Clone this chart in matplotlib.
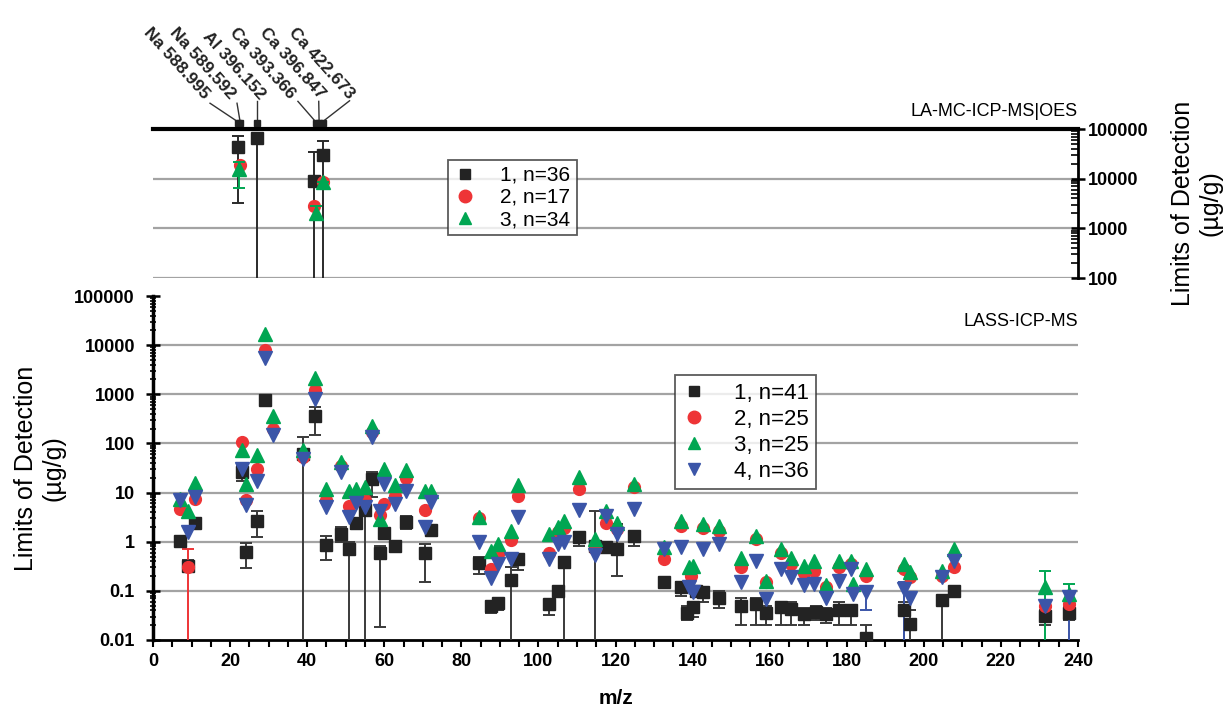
import numpy as np
import matplotlib
matplotlib.use("Agg")
import matplotlib.pyplot as plt
from matplotlib.ticker import FixedLocator, MultipleLocator, NullFormatter
from matplotlib.lines import Line2D

plt.rcParams['font.family'] = ['Liberation Sans', 'DejaVu Sans']

# ---- bottom panel: LASS-ICP-MS ----
# series 1 (black squares): m/z, LOD, lower / upper end of error bar
s1_mz = [7.0, 9.1, 10.9, 23.0, 24.1, 27.0, 29.0, 38.9, 42.0, 44.8, 48.9, 50.9, 52.7, 55.0,
         56.8, 58.8, 60.0, 62.9, 65.7, 70.6, 72.2, 84.7, 87.7, 89.5, 92.9, 94.6, 102.8, 105.0,
         106.7, 110.6, 114.8, 117.5, 120.5, 124.9, 132.6, 137.0, 138.6, 140.0, 141.0, 142.6,
         146.9, 152.5, 156.4, 159.0, 162.9, 165.5, 169.0, 172.0, 174.5, 178.0, 181.0, 184.9,
         194.8, 196.5, 204.7, 207.8, 231.5, 237.6]
s1_val = [1.05, 0.32, 2.4, 26, 0.62, 2.6, 780, 60, 355, 0.87, 1.45, 0.70, 2.4, 4.5,
          19, 0.58, 1.5, 0.83, 2.5, 0.6, 1.7, 0.37, 0.049, 0.057, 0.17, 0.44, 0.053, 0.10,
          0.39, 1.25, 0.8, 0.79, 0.7, 1.3, 0.15, 0.12, 0.036, 0.046, 0.10, 0.095,
          0.072, 0.049, 0.053, 0.036, 0.046, 0.043, 0.034, 0.038, 0.034, 0.041, 0.041, 0.011,
          0.041, 0.021, 0.065, 0.10, 0.031, 0.036]
s1_lo = [0.9, 0.25, 2.0, 17, 0.29, 1.27, 700, 0.009, 145, 0.43, 1.0, 0.009, 1.8, 0.009,
         8, 0.018, 1.2, 0.7, 1.8, 0.15, 1.4, 0.22, 0.035, 0.04, 0.009, 0.26, 0.033, 0.09,
         0.009, 0.8, 0.009, 0.7, 0.2, 0.8, 0.14, 0.08, 0.025, 0.03, 0.08, 0.06,
         0.045, 0.02, 0.02, 0.02, 0.02, 0.02, 0.02, 0.025, 0.022, 0.02, 0.02, 0.009,
         0.009, 0.009, 0.009, 0.085, 0.02, 0.025]
s1_hi = [1.25, 0.42, 2.9, 35, 0.95, 4.2, 850, 135, 550, 1.3, 2.0, 1.0, 3.0, 9,
         26, 0.8, 1.9, 1.0, 3.3, 0.9, 2.0, 0.5, 0.06, 0.065, 0.3, 0.55, 0.065, 0.11,
         0.5, 1.6, 4.3, 0.9, 2.3, 1.6, 0.16, 0.15, 0.05, 0.06, 0.12, 0.11,
         0.1, 0.07, 0.07, 0.05, 0.06, 0.06, 0.045, 0.05, 0.045, 0.06, 0.05, 0.02,
         0.06, 0.04, 0.08, 0.12, 0.04, 0.05]

# series 2 (red circles)
s2_mz = [7.0, 9.1, 10.9, 23.0, 24.1, 27.0, 29.0, 31.2, 38.9, 42.0, 44.8, 48.9, 50.9, 52.7,
         55.0, 56.8, 58.8, 60.0, 62.9, 65.7, 70.6, 84.7, 87.7, 89.5, 92.9, 94.6, 102.8, 105.0,
         106.7, 110.6, 114.8, 117.5, 120.5, 124.9, 132.6, 137.0, 139.5, 142.6, 146.9, 152.5,
         156.4, 159.0, 162.9, 165.5, 169.0, 171.5, 174.5, 178.0, 181.0, 184.9, 194.8, 196.5,
         204.7, 207.8, 231.5, 237.6]
s2_val = [4.7, 0.30, 7.4, 107, 6.9, 30, 7900, 200, 53, 1200, 6.9, 35, 5.4, 7.0,
          7.0, 170, 3.5, 5.9, 8.7, 20, 4.5, 3.0, 0.28, 0.56, 1.08, 8.6, 0.6, 1.6,
          1.9, 12, 0.7, 2.4, 1.8, 13, 0.44, 2.1, 0.2, 1.9, 1.66, 0.30,
          1.15, 0.15, 0.6, 0.36, 0.23, 0.25, 0.12, 0.30, 0.35, 0.2, 0.28, 0.19,
          0.20, 0.30, 0.05, 0.055]

# series 3 (green triangles)
s3_mz = [7.0, 9.1, 10.9, 23.0, 24.1, 27.0, 29.0, 31.2, 38.9, 42.0, 44.8, 48.9, 50.9, 52.7,
         55.0, 56.8, 58.8, 60.0, 62.9, 65.7, 70.6, 72.2, 84.7, 87.7, 89.5, 92.9, 94.6, 102.8,
         105.0, 106.7, 110.6, 114.8, 117.5, 120.5, 124.9, 132.6, 137.0, 139.0, 140.0, 142.6,
         146.9, 152.5, 156.4, 159.0, 162.9, 165.5, 169.0, 171.5, 174.5, 178.0, 181.0, 181.5,
         184.9, 194.8, 196.5, 204.7, 207.8, 231.5, 237.6]
s3_val = [7.4, 4.3, 16, 72, 15, 57, 17000, 370, 72, 2100, 12, 42, 11, 12,
          13, 230, 2.9, 30, 14, 29, 11, 11, 3.2, 0.66, 0.9, 1.66, 14, 1.45,
          2.0, 2.6, 21, 1.15, 4.3, 2.4, 15, 0.78, 2.6, 0.3, 0.32, 2.3,
          2.1, 0.47, 1.3, 0.16, 0.7, 0.47, 0.32, 0.41, 0.13, 0.41, 0.41, 0.14,
          0.28, 0.36, 0.24, 0.25, 0.7, 0.12, 0.087]

# series 4 (blue down triangles)
s4_mz = [7.0, 9.1, 10.9, 23.0, 24.1, 27.0, 29.0, 31.2, 38.9, 42.0, 44.8, 48.9, 50.9, 52.7,
         55.0, 56.8, 58.8, 60.0, 62.9, 65.7, 70.6, 72.2, 84.7, 87.7, 89.5, 92.9, 94.6, 102.8,
         105.0, 106.7, 110.6, 114.8, 117.5, 120.5, 124.9, 132.6, 137.0, 139.0, 140.0, 142.6,
         146.9, 152.5, 156.4, 159.0, 162.9, 165.5, 169.0, 171.5, 174.5, 178.0, 181.0, 181.5,
         184.9, 194.8, 196.5, 204.7, 207.8, 231.5, 237.6]
s4_val = [6.9, 1.55, 8.0, 30, 5.7, 17, 5400, 145, 49, 810, 5.0, 26, 3.2, 6.0,
          5.0, 135, 4.3, 15, 5.9, 11, 2.0, 6.3, 1.0, 0.18, 0.36, 0.44, 3.2, 0.44,
          0.9, 1.0, 4.5, 0.53, 3.3, 1.45, 4.7, 0.7, 0.78, 0.12, 0.095, 0.7,
          0.9, 0.15, 0.41, 0.069, 0.28, 0.19, 0.13, 0.14, 0.072, 0.16, 0.28, 0.087,
          0.095, 0.11, 0.072, 0.19, 0.41, 0.05, 0.075]

# visible error bars of series 2-4
s2_bar_mz, s2_bar_lo, s2_bar_hi = [9.1], [0.009], [0.72]
s3_bar_mz, s3_bar_lo, s3_bar_hi = [231.5, 237.6], [0.009, 0.03], [0.25, 0.14]
s4_bar_mz, s4_bar_lo, s4_bar_hi = [184.9, 194.8, 237.6], [0.04, 0.009, 0.009], [0.11, 0.15, 0.1]

# ---- top panel: LA-MC-ICP-MS|OES ----
t1_mz = [22.0, 27.0, 41.7, 44.0]
t1_val = [44000, 65000, 9100, 30000]
t1_lo = [3300, 90, 90, 90]
t1_hi = [72000, 65000, 35000, 57000]
t2_mz = [22.5, 41.9, 44.0]
t2_val = [19000, 2800, 8700]
t3_mz = [22.3, 42.2, 44.0]
t3_val = [16000, 2000, 8500]
t3_lo = [6500, 1500, 8500]
t3_hi = [22000, 2800, 8500]

line_labels = ["Na 588.995", "Na 589.592", "Al 396.152", "Ca 393.366", "Ca 396.847", "Ca 422.673"]
line_anchor_mz = [22.0, 22.6, 27.0, 42.2, 43.1, 44.0]

legend_bottom = ["1, n=41", "2, n=25", "3, n=25", "4, n=36"]
legend_top = ["1, n=36", "2, n=17", "3, n=34"]

c1, c2, c3, c4 = '#232323', '#ee3436', '#00a652', '#3b55a8'
grid_c = '#a3a3a3'

fig = plt.figure(figsize=(12.23, 7.09), dpi=100)
W, H = 1223.0, 709.0
x0, x1 = 153, 1078
ax = fig.add_axes([x0 / W, 1 - 640 / H, (x1 - x0) / W, 344 / H])
axt = fig.add_axes([x0 / W, 1 - 278 / H, (x1 - x0) / W, 149 / H])


def yerr(val, lo, hi):
    val = np.asarray(val, float)
    return [val - np.asarray(lo, float), np.asarray(hi, float) - val]


mk = dict(linestyle='none', capsize=4, elinewidth=1.4, capthick=1.4)

# bottom panel
ax.errorbar(s1_mz, s1_val, yerr=yerr(s1_val, s1_lo, s1_hi), marker='s', ms=8,
            color=c1, ecolor='#3a3a3a', zorder=3, **mk)
ax.errorbar(s2_bar_mz, s2_bar_hi, yerr=yerr(s2_bar_hi, s2_bar_lo, s2_bar_hi),
            fmt='none', ecolor=c2, zorder=3, capsize=4, elinewidth=1.4, capthick=1.4)
ax.plot(s2_mz, s2_val, 'o', ms=8.5, color=c2, mec=c2, zorder=4)
ax.errorbar(s3_bar_mz, s3_bar_hi, yerr=yerr(s3_bar_hi, s3_bar_lo, s3_bar_hi),
            fmt='none', ecolor=c3, zorder=3, capsize=4, elinewidth=1.4, capthick=1.4)
ax.plot(s3_mz, s3_val, '^', ms=9.5, color=c3, zorder=5)
ax.errorbar(s4_bar_mz, s4_bar_hi, yerr=yerr(s4_bar_hi, s4_bar_lo, s4_bar_hi),
            fmt='none', ecolor=c4, zorder=3, capsize=4, elinewidth=1.4, capthick=1.4)
ax.plot(s4_mz, s4_val, 'v', ms=9.5, color=c4, zorder=6)

ax.set_yscale('log')
ax.set_ylim(0.01, 100000)
ax.set_xlim(0, 240)
for v in [0.1, 1, 10, 100, 1000, 10000]:
    ax.axhline(v, color=grid_c, lw=1.6, zorder=0)
for s in ['top', 'right']:
    ax.spines[s].set_visible(False)
ax.spines['left'].set_linewidth(2.5)
ax.spines['bottom'].set_linewidth(2.0)
ax.xaxis.set_major_locator(MultipleLocator(20))
ax.xaxis.set_minor_locator(MultipleLocator(5))
ax.yaxis.set_major_locator(FixedLocator([0.01, 0.1, 1, 10, 100, 1000, 10000, 100000]))
ax.yaxis.set_major_formatter(plt.FuncFormatter(lambda v, p: f"{v:g}"))
ax.yaxis.set_minor_formatter(NullFormatter())
ax.tick_params(axis='y', which='major', direction='inout', length=10, width=1.8,
               labelsize=13, pad=8)
ax.tick_params(axis='y', which='minor', direction='inout', length=5, width=1.2)
ax.tick_params(axis='x', which='both', direction='out', length=5, width=1.5,
               labelsize=13, pad=4)
for lab in ax.get_xticklabels() + ax.get_yticklabels():
    lab.set_fontweight('bold')
ax.set_xlabel("m/z", fontsize=15, fontweight='bold', labelpad=14)
ax.set_ylabel("Limits of Detection\n(\u00b5g/g)", fontsize=18, labelpad=6, linespacing=1.2)
ax.text(1.0, 0.925, "LASS-ICP-MS", transform=ax.transAxes, ha='right', va='center',
        fontsize=13)

hb = [Line2D([], [], marker='s', ls='none', color=c1, ms=7),
      Line2D([], [], marker='o', ls='none', color=c2, ms=9),
      Line2D([], [], marker='^', ls='none', color=c3, ms=9),
      Line2D([], [], marker='v', ls='none', color=c4, ms=9)]
leg = ax.legend(hb, legend_bottom, loc='upper left', bbox_to_anchor=(0.564, 0.77),
                fontsize=16, frameon=True, fancybox=False, handletextpad=1.3,
                borderpad=0.35, labelspacing=0.22, handlelength=1.0, borderaxespad=0)
leg.get_frame().set_edgecolor('#333333')
leg.get_frame().set_linewidth(1.3)
leg.set_zorder(10)

# top panel
axt.errorbar(t1_mz, t1_val, yerr=yerr(t1_val, t1_lo, t1_hi), marker='s', ms=8,
             color=c1, ecolor='#2a2a2a', zorder=3, **mk)
axt.plot(t2_mz, t2_val, 'o', ms=8.5, color=c2, zorder=4)
axt.errorbar(t3_mz, t3_val, yerr=yerr(t3_val, t3_lo, t3_hi), marker='^', ms=9.5,
             color=c3, ecolor=c3, zorder=5, **mk)
axt.set_yscale('log')
axt.set_ylim(100, 100000)
axt.set_xlim(0, 240)
for v in [100, 1000, 10000]:
    axt.axhline(v, color=grid_c, lw=1.6, zorder=0)
for s in ['left', 'bottom']:
    axt.spines[s].set_visible(False)
axt.spines['top'].set_linewidth(3)
axt.spines['right'].set_linewidth(2)
axt.set_xticks([])
axt.yaxis.tick_right()
axt.yaxis.set_major_locator(FixedLocator([100, 1000, 10000, 100000]))
axt.yaxis.set_major_formatter(plt.FuncFormatter(lambda v, p: f"{v:g}"))
axt.yaxis.set_minor_formatter(NullFormatter())
axt.tick_params(axis='y', which='major', direction='inout', length=10, width=1.8,
                labelsize=13, pad=2)
axt.tick_params(axis='y', which='minor', direction='in', length=5, width=1.2)
for lab in axt.get_yticklabels():
    lab.set_fontweight('bold')
axt.yaxis.set_label_position('right')
axt.set_ylabel("Limits of Detection\n(\u00b5g/g)", fontsize=18, labelpad=16,
               linespacing=1.2, rotation=90)
axt.text(1.0, 1.06, "LA-MC-ICP-MS|OES", transform=axt.transAxes, ha='right',
         va='bottom', fontsize=13)

# emission line labels above the top panel
text_mz = [13.9, 20.6, 28.3, 36.1, 43.9, 51.4]
text_y = 4.4e5
conn_from = [(14.8, 3.3e5), (21.8, 3.3e5), (27.0, 3.6e5), (37.6, 3.6e5), (43.0, 3.6e5), (51.0, 3.7e5)]
for lab, tx, (fx, fy), amz in zip(line_labels, text_mz, conn_from, line_anchor_mz):
    axt.text(tx, text_y, lab, rotation=-48, rotation_mode='anchor', ha='right',
             va='center', fontsize=12.5, fontweight='bold', color='#222222', clip_on=False)
    axt.plot([fx, amz], [fy, 1.4e5], color='#333333', lw=1, clip_on=False)
axt.plot(line_anchor_mz, [1.35e5] * len(line_anchor_mz), 's', ms=5, color=c1, clip_on=False)

ht = hb[:3]
legt = axt.legend(ht, legend_top, loc='upper left', bbox_to_anchor=(0.319, 0.795),
                  fontsize=15, frameon=True, fancybox=False, handletextpad=1.2,
                  borderpad=0.3, labelspacing=0.15, handlelength=1.0, borderaxespad=0)
legt.get_frame().set_edgecolor('#333333')
legt.get_frame().set_linewidth(1.3)

fig.savefig("out.png", dpi=100)
